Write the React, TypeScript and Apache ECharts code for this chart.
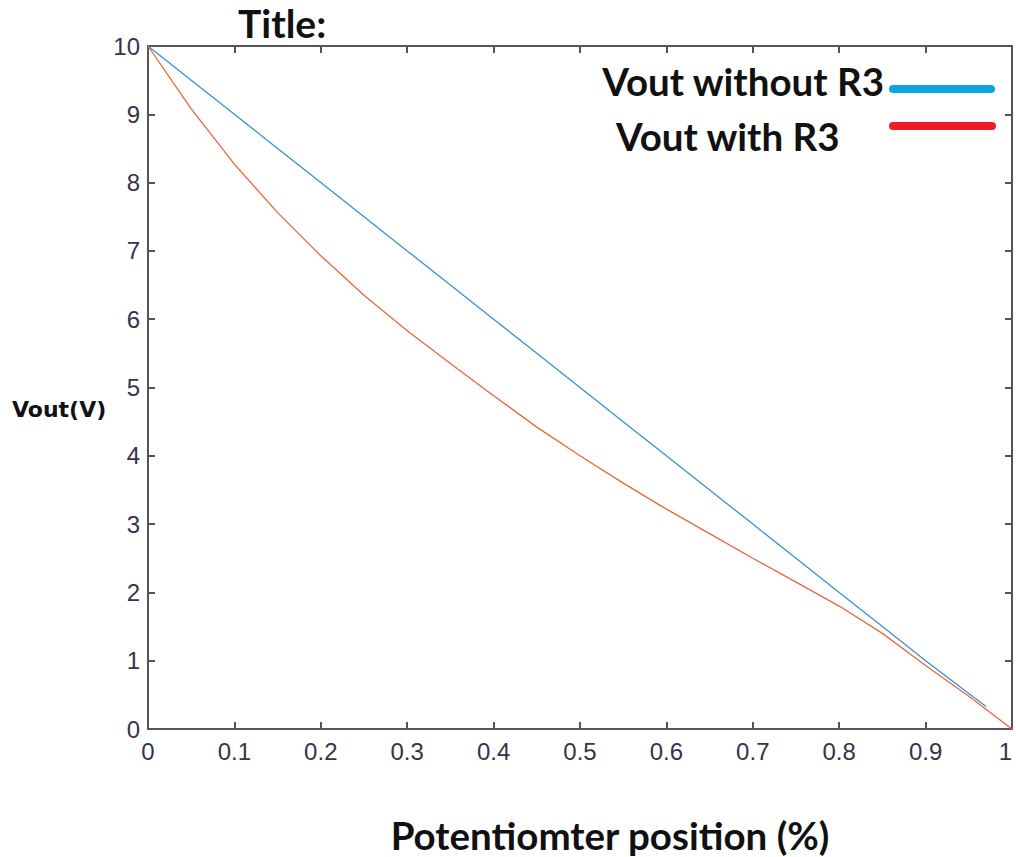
import React, { useEffect, useRef } from "react";
import * as echarts from "echarts";

const positions = [0, 0.05, 0.1, 0.15, 0.2, 0.25, 0.3, 0.35, 0.4, 0.45, 0.5, 0.55, 0.6, 0.65, 0.7, 0.75, 0.8, 0.85, 0.9, 0.95, 1];
const voutWithR3 = [10, 9.08, 8.27, 7.56, 6.93, 6.35, 5.83, 5.35, 4.88, 4.42, 4.0, 3.6, 3.22, 2.86, 2.5, 2.15, 1.8, 1.4, 0.93, 0.48, 0];
const positionsNoR3 = [0, 0.05, 0.1, 0.15, 0.2, 0.25, 0.3, 0.35, 0.4, 0.45, 0.5, 0.55, 0.6, 0.65, 0.7, 0.75, 0.8, 0.85, 0.9, 0.95, 0.97];
const voutWithoutR3 = [10, 9.5, 9.0, 8.5, 8.0, 7.5, 7.0, 6.5, 6.0, 5.5, 5.0, 4.5, 4.0, 3.5, 3.0, 2.5, 2.0, 1.5, 1.0, 0.52, 0.33];
const legendNames = ["Vout without R3", "Vout with R3"];

const BOLD = "Lato, 'Open Sans', sans-serif";

export default function App() {
  const ref = useRef<HTMLDivElement>(null);
  useEffect(() => {
    if (!ref.current) return;
    const chart = echarts.init(ref.current, null, { renderer: "svg" });
    const axisLine = { show: true, onZero: false, lineStyle: { color: "#555", width: 2 } };
    const tick = { show: true, inside: true, length: 7, lineStyle: { color: "#555", width: 2 } };
    const label = { fontFamily: "'Liberation Sans', Arial, sans-serif", fontSize: 24, color: "#34344a" };
    chart.setOption({
      animation: false,
      backgroundColor: "#fff",
      grid: { left: 148, right: 4, top: 46, bottom: 128, outerBoundsMode: "none", containLabel: false },
      xAxis: [
        {
          type: "value", min: 0, max: 1, interval: 0.1,
          axisLine, axisTick: tick, splitLine: { show: false },
          axisLabel: { ...label, margin: 10, alignMaxLabel: "right", formatter: (v: number) => String(Math.round(v * 10) / 10) },
        },
        {
          type: "value", position: "top", min: 0, max: 1, interval: 0.1,
          axisLine, axisTick: tick, splitLine: { show: false }, axisLabel: { show: false },
        },
      ],
      yAxis: [
        {
          type: "value", min: 0, max: 10, interval: 1,
          axisLine, axisTick: tick, splitLine: { show: false },
          axisLabel: { ...label, margin: 8 },
        },
        {
          type: "value", position: "right", min: 0, max: 10, interval: 1,
          axisLine, axisTick: tick, splitLine: { show: false }, axisLabel: { show: false },
        },
      ],
      series: [
        {
          name: legendNames[0], type: "line", showSymbol: false,
          lineStyle: { color: "#3a8fd6", width: 1.3 },
          data: positionsNoR3.map((x, i) => [x, voutWithoutR3[i]]),
        },
        {
          name: legendNames[1], type: "line", showSymbol: false,
          lineStyle: { color: "#e8673c", width: 1.3 },
          data: positions.map((x, i) => [x, voutWithR3[i]]),
        },
      ],
      graphic: [
        { type: "text", style: { x: 238, y: 23, text: "Title:", font: `bold 39px ${BOLD}`, fill: "#111", verticalAlign: "middle" } },
        { type: "text", style: { x: 12, y: 409, text: "Vout(V)", font: `bold 22px 'DejaVu Sans', sans-serif`, fill: "#111", verticalAlign: "middle" } },
        { type: "text", style: { x: 610, y: 835, text: "Potentiomter position (%)", font: `bold 38.5px ${BOLD}`, fill: "#111", align: "center", verticalAlign: "middle" } },
        { type: "text", style: { x: 884, y: 81, text: legendNames[0], font: `bold 38.5px ${BOLD}`, fill: "#111", align: "right", verticalAlign: "middle" } },
        { type: "text", style: { x: 616, y: 136, text: legendNames[1], font: `bold 38.5px ${BOLD}`, fill: "#111", verticalAlign: "middle" } },
        { type: "line", shape: { x1: 893, y1: 89, x2: 991, y2: 89 }, style: { stroke: "#0ea3e6", lineWidth: 8, lineCap: "round" } },
        { type: "line", shape: { x1: 893, y1: 126, x2: 992, y2: 126 }, style: { stroke: "#ee1d26", lineWidth: 8, lineCap: "round" } },
      ],
    });
    return () => chart.dispose();
  }, []);
  return <div ref={ref} style={{ position: "absolute", left: 0, top: 0, width: 1016, height: 857 }} />;
}
